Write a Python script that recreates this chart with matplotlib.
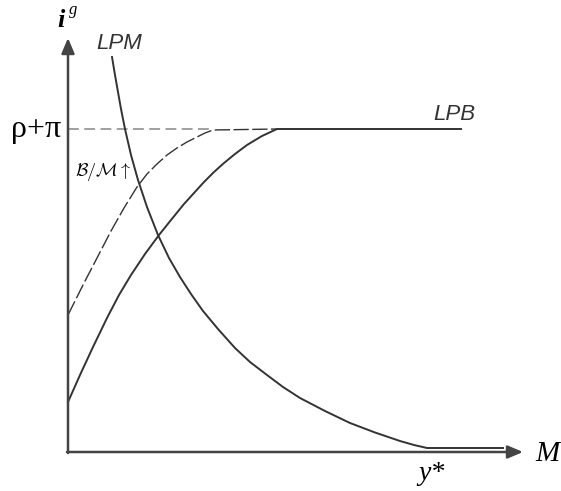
import numpy as np
import matplotlib
matplotlib.use('Agg')
import matplotlib.pyplot as plt

plt.rcParams['mathtext.fontset'] = 'cm'

#%% curve values (x = M, y = i^g)
lpm_x = [44, 47, 50, 53, 57, 63, 70, 79, 90, 101, 112, 123, 135, 150, 167,
         182, 199, 215, 232, 257, 282, 307, 332, 346, 359, 435]
lpm_y = [395, 377, 360, 343, 323, 297, 272, 245, 217, 194, 175, 158, 141, 123, 104,
         90, 77, 65, 54, 41, 29, 19.5, 11, 7, 4, 4]

lpb_x = [0, 12, 25, 39, 51, 63, 77, 91, 103, 116, 126, 136, 146, 156, 167,
         179, 194, 209, 393]
lpb_y = [50, 77, 105, 134, 157, 177, 198, 217, 232, 248, 259, 270, 280, 289, 298,
         307, 316, 323, 323]

bm_x = [0, 8, 16, 29, 43, 56, 69, 79, 89, 99, 109, 119, 129, 137, 145, 209]
bm_y = [137, 153, 169, 194, 221, 244, 265, 278, 288, 297, 304, 310, 315, 319, 322, 323]

rho_pi = 323              # level of rho + pi
x_end, y_end = 455, 414   # axis arrow tips

ink = '#333333'

fig = plt.figure(figsize=(5.61, 4.91), dpi=100)
ax = fig.add_axes([0, 0, 1, 1])
ax.set_xlim(-68, 493)
ax.set_ylim(-39, 452)
ax.axis('off')

# axes with arrows
arrow = dict(arrowstyle='-|>,head_length=0.4,head_width=0.17', color='#444444',
             lw=1.8, mutation_scale=23, shrinkA=0, shrinkB=0)
ax.annotate('', xy=(0, y_end), xytext=(0, -1), arrowprops=arrow)
ax.annotate('', xy=(x_end, 0), xytext=(-1, 0), arrowprops=arrow)

# rho + pi guide
ax.plot([0, bm_x[-2]], [rho_pi, rho_pi], color='#999999', lw=1.3,
        dashes=(6, 3))

# curves
ax.plot(bm_x, bm_y, color=ink, lw=1.0, dashes=(11, 2.5))
ax.plot(lpb_x, lpb_y, color=ink, lw=1.4, solid_joinstyle='round')
ax.plot(lpm_x, lpm_y, color=ink, lw=1.4, solid_joinstyle='round')

# labels
sans = dict(family='Liberation Sans', style='italic', color=ink, fontsize=16)
serif = dict(family='Liberation Serif', color='black')
ax.text(51, 409, 'LPM', ha='center', va='center', **sans)
ax.text(386, 338, 'LPB', ha='center', va='center', **sans)
ax.text(-7, 315, 'ρ+π', ha='right', va='baseline', fontsize=23, **serif)
ax.text(-11, 425, 'i', ha='left', va='baseline', fontsize=19,
        fontweight='bold', style='italic', **serif)
ax.text(1, 438, 'g', ha='left', va='baseline', fontsize=12,
        style='italic', **serif)
ax.text(467, -9, 'M', ha='left', va='baseline', fontsize=21,
        style='italic', **serif)
ax.text(363, -28, 'y*', ha='center', va='baseline', fontsize=20,
        style='italic', **serif)
ax.text(7, 280, r'$\mathcal{B}/\mathcal{M}\uparrow$', ha='left', va='center',
        fontsize=13, color='black')

fig.savefig('out.png', dpi=100)
